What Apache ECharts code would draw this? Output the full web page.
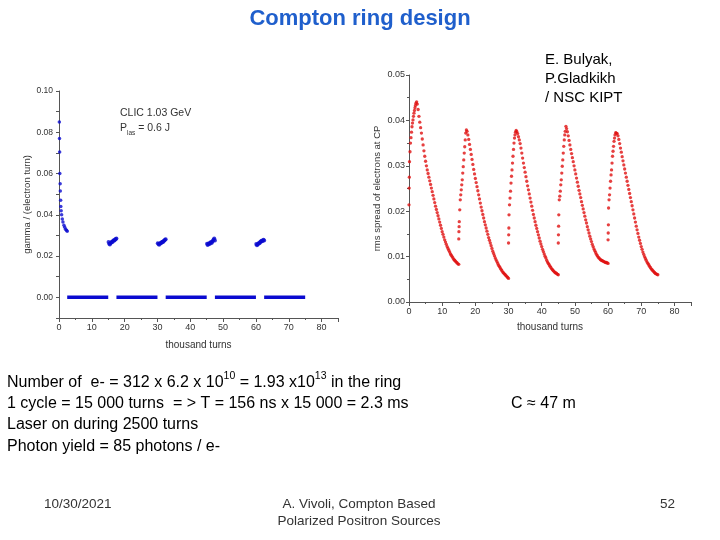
<!DOCTYPE html>
<html>
<head>
<meta charset="utf-8">
<script src="https://cdn.jsdelivr.net/npm/echarts@6/dist/echarts.min.js"></script>
<style>
html,body{margin:0;padding:0;background:#fff;}
#main{width:720px;height:540px;}
</style>
</head>
<body>
<div id="main"></div>
<script>
// ---------- Left chart: gamma / (electron turn) ----------
const leftDecayX = [0.1,0.15,0.2,0.25,0.35,0.4,0.5,0.55,0.65,0.8,1.0,1.2,1.5,1.75,2.0,2.3,2.5];
const leftDecayY = [0.085,0.077,0.0705,0.060,0.055,0.0515,0.047,0.044,0.042,0.040,0.038,0.0365,0.035,0.034,0.033,0.0325,0.032];
const clusterStarts = [15,30,45,60];
const clusterOffsets = [0.1,0.3,0.5,0.7,0.9,1.1,1.3,1.5,1.7,1.9,2.1,2.3,2.5];
const cluster1 = [0.0268,0.0260,0.0256,0.0262,0.0266,0.0270,0.0268,0.0274,0.0277,0.0275,0.0280,0.0283,0.0285];
const cluster2 = [0.0262,0.0258,0.0255,0.0260,0.0264,0.0262,0.0267,0.0270,0.0268,0.0273,0.0276,0.0279,0.0282];
const cluster3 = [0.0260,0.0254,0.0258,0.0262,0.0259,0.0265,0.0268,0.0264,0.0270,0.0274,0.0280,0.0285,0.0276];
const cluster4 = [0.0258,0.0252,0.0256,0.0260,0.0264,0.0262,0.0268,0.0271,0.0274,0.0272,0.0276,0.0279,0.0275];
const zeroSegments = [[2.5,15],[17.5,30],[32.5,45],[47.5,60],[62.5,75]];

// ---------- Right chart: rms spread of electrons at CP ----------
const cycleStarts = [0,15,30,45,60];
const riseOffsets = [0,0.05,0.1,0.15,0.3,0.45,0.6,0.75,0.9,1.05,1.2,1.35,1.5,1.65,1.8,1.95,2.1,2.3];
const decayOffsets = [2.5,2.75,3,3.25,3.5,3.75,4,4.25,4.5,4.75,5,5.25,5.5,5.75,6,6.25,6.5,6.75,7,7.25,7.5,7.75,8,8.25,8.5,8.75,9,9.25,9.5,9.75,10,10.25,10.5,10.75,11,11.25,11.5,11.75,12,12.25,12.5,12.75,13,13.25,13.5,13.75,14,14.25,14.5,14.75,15];
const cycle1Rise = [0.0214,0.0251,0.0275,0.0309,0.0331,0.0350,0.0362,0.0374,0.0386,0.0394,0.0401,0.0409,0.0416,0.0422,0.0428,0.0433,0.0438,0.0441];
const cycle2Rise = [0.0139,0.0155,0.0166,0.0177,0.0203,0.0225,0.0236,0.0247,0.0258,0.0269,0.0284,0.0298,0.0313,0.0328,0.0342,0.0357,0.0372,0.0379];
const cycle3Rise = [0.0130,0.0148,0.0163,0.0192,0.0214,0.0229,0.0244,0.0262,0.0277,0.0291,0.0306,0.0321,0.0336,0.0350,0.0361,0.0368,0.0374,0.0378];
const cycle4Rise = [0.0130,0.0148,0.0167,0.0192,0.0225,0.0233,0.0244,0.0258,0.0269,0.0284,0.0299,0.0313,0.0328,0.0343,0.0357,0.0368,0.0376,0.0387];
const cycle5Rise = [0.0137,0.0152,0.0170,0.0207,0.0225,0.0236,0.0251,0.0266,0.0280,0.0291,0.0306,0.0321,0.0332,0.0343,0.0354,0.0361,0.0368,0.0373];
const cycle1Decay = [0.0436,0.0424,0.0409,0.0396,0.0384,0.0372,0.0359,0.0346,0.0333,0.0321,
  0.0310,0.0300,0.0291,0.0283,0.0275,0.0267,0.0259,0.0251,0.0243,0.0235,
  0.0227,0.0219,0.0211,0.0204,0.0197,0.0190,0.0183,0.0176,0.0169,0.0162,
  0.0155,0.0149,0.0143,0.0137,0.0132,0.0127,0.0122,0.0118,0.0114,0.0110,
  0.0106,0.0103,0.0100,0.0097,0.0094,0.0092,0.0090,0.0088,0.0086,0.0084,0.0083];
const cycle2Decay = [0.0376,0.0368,0.0358,0.0347,0.0336,0.0325,0.0314,0.0303,0.0292,0.0282,
  0.0272,0.0263,0.0254,0.0245,0.0236,0.0227,0.0218,0.0209,0.0201,0.0193,
  0.0185,0.0177,0.0170,0.0163,0.0156,0.0149,0.0142,0.0136,0.0130,0.0124,
  0.0118,0.0112,0.0107,0.0102,0.0097,0.0093,0.0089,0.0085,0.0081,0.0078,
  0.0075,0.0072,0.0069,0.0066,0.0064,0.0062,0.0060,0.0058,0.0056,0.0054,0.0052];
const cycle3Decay = [0.0375,0.0371,0.0364,0.0357,0.0349,0.0339,0.0328,0.0317,0.0306,0.0296,
  0.0286,0.0276,0.0266,0.0256,0.0247,0.0238,0.0229,0.0220,0.0211,0.0202,
  0.0193,0.0185,0.0177,0.0169,0.0162,0.0155,0.0148,0.0141,0.0134,0.0128,
  0.0122,0.0116,0.0111,0.0106,0.0101,0.0097,0.0092,0.0088,0.0085,0.0082,
  0.0079,0.0076,0.0073,0.0071,0.0069,0.0067,0.0065,0.0064,0.0063,0.0061,0.0060];
const cycle4Decay = [0.0382,0.0375,0.0366,0.0356,0.0346,0.0336,0.0327,0.0318,0.0309,0.0300,
  0.0291,0.0282,0.0273,0.0264,0.0255,0.0246,0.0238,0.0230,0.0221,0.0213,
  0.0205,0.0197,0.0189,0.0181,0.0174,0.0166,0.0159,0.0152,0.0145,0.0139,
  0.0133,0.0127,0.0122,0.0117,0.0113,0.0109,0.0105,0.0102,0.0099,0.0097,
  0.0095,0.0093,0.0092,0.0091,0.0090,0.0089,0.0088,0.0087,0.0087,0.0086,0.0085];
const cycle5Decay = [0.0372,0.0371,0.0366,0.0358,0.0349,0.0339,0.0330,0.0320,0.0311,0.0302,
  0.0293,0.0284,0.0275,0.0266,0.0257,0.0248,0.0239,0.0230,0.0221,0.0212,
  0.0203,0.0194,0.0185,0.0176,0.0167,0.0159,0.0151,0.0143,0.0136,0.0129,
  0.0122,0.0116,0.0110,0.0105,0.0100,0.0096,0.0092,0.0088,0.0085,0.0082,
  0.0079,0.0076,0.0073,0.0071,0.0069,0.0067,0.0065,0.0063,0.0062,0.0061,0.0060];

// ---------- Tick labels ----------
const xTicks = [0,10,20,30,40,50,60,70,80];
const leftYTicks = ['0.00','0.02','0.04','0.06','0.08','0.10'];
const rightYTicks = ['0.00','0.01','0.02','0.03','0.04','0.05'];

// ---------- Build data ----------
const leftDecay = leftDecayX.map((x,i)=>[x,leftDecayY[i]]);
const clusters = [cluster1,cluster2,cluster3,cluster4];
const clusterData = [];
clusters.forEach((c,k)=>c.forEach((v,i)=>clusterData.push([clusterStarts[k]+clusterOffsets[i], v])));

const rises = [cycle1Rise,cycle2Rise,cycle3Rise,cycle4Rise,cycle5Rise];
const decays = [cycle1Decay,cycle2Decay,cycle3Decay,cycle4Decay,cycle5Decay];
const redData = [];
cycleStarts.forEach((s,k)=>{
  rises[k].forEach((v,i)=>redData.push([s+riseOffsets[i], v]));
  decays[k].forEach((v,i)=>redData.push([s+decayOffsets[i], v]));
});

const BLUE = '#0a0ad0';
const RED = '#e01010';
const AX = '#555';
const TXT = '#333';
const FONT = 'Liberation Sans, Arial, sans-serif';

function xAxisCfg(grid, gap){
  return {
    type:'value', gridIndex:grid, min:0, max:85, interval:10,
    axisLine:{show:true, onZero:false, lineStyle:{color:AX, width:1}},
    axisTick:{show:true, length:4, lineStyle:{color:AX}},
    minorTick:{show:true, splitNumber:2, length:2, lineStyle:{color:AX}},
    splitLine:{show:false},
    axisLabel:{fontSize:9, color:TXT, fontFamily:FONT, margin:5,
      formatter:v=> xTicks.indexOf(v)>=0 ? String(v) : ''},
    name:'thousand turns', nameLocation:'middle', nameGap:gap,
    nameTextStyle:{fontSize:10, color:TXT, fontFamily:FONT}
  };
}

const chart = echarts.init(document.getElementById('main'), null, {renderer:'canvas'});
chart.setOption({
  animation:false,
  backgroundColor:'#fff',
  grid:[
    {left:59, top:91, width:279, height:227},
    {left:409, top:75, width:282, height:227}
  ],
  xAxis:[ xAxisCfg(0, 22), xAxisCfg(1, 20) ],
  yAxis:[
    {
      type:'value', gridIndex:0, min:-0.01, max:0.10, interval:0.01,
      axisLine:{show:true, onZero:false, lineStyle:{color:AX, width:1}},
      axisTick:{show:true, length:3, lineStyle:{color:AX}},
      splitLine:{show:false},
      axisLabel:{fontSize:8.5, color:TXT, fontFamily:FONT, margin:6,
        formatter:v=>{ const s=v.toFixed(2); return leftYTicks.indexOf(s)>=0 ? s : ''; }},
      name:'gamma / (electron turn)', nameLocation:'middle', nameGap:27,
      nameTextStyle:{fontSize:9.5, color:TXT, fontFamily:FONT}
    },
    {
      type:'value', gridIndex:1, min:0, max:0.05, interval:0.01,
      axisLine:{show:true, onZero:false, lineStyle:{color:AX, width:1}},
      axisTick:{show:true, length:3, lineStyle:{color:AX}},
      minorTick:{show:true, splitNumber:2, length:2, lineStyle:{color:AX}},
      splitLine:{show:false},
      axisLabel:{fontSize:9, color:TXT, fontFamily:FONT, margin:4,
        formatter:v=>{ const s=v.toFixed(2); return rightYTicks.indexOf(s)>=0 ? s : ''; }},
      name:'rms spread of electrons at CP', nameLocation:'middle', nameGap:27,
      nameTextStyle:{fontSize:9.5, color:TXT, fontFamily:FONT}
    }
  ],
  series:[
    {type:'scatter', xAxisIndex:0, yAxisIndex:0, data:leftDecay, symbolSize:3.5,
      itemStyle:{color:BLUE}, silent:true},
    {type:'scatter', xAxisIndex:0, yAxisIndex:0, data:clusterData, symbolSize:4,
      itemStyle:{color:BLUE}, silent:true},
    ...zeroSegments.map(seg=>({
      type:'line', xAxisIndex:0, yAxisIndex:0, data:[[seg[0],0],[seg[1],0]],
      symbol:'none', lineStyle:{color:BLUE, width:3.5}, silent:true
    })),
    {type:'scatter', xAxisIndex:1, yAxisIndex:1, data:redData, symbolSize:3.3,
      itemStyle:{color:RED}, silent:true}
  ],
  graphic:[
    {type:'text', left:'center', top:8, style:{text:'Compton ring design',
      font:'bold 22px Liberation Sans, Arial, sans-serif', fill:'#1f5fcc'}},
    {type:'text', x:545, y:50, style:{text:'E. Bulyak,\nP.Gladkikh\n/ NSC KIPT',
      font:'15px Liberation Sans, Arial, sans-serif', fill:'#000', lineHeight:19}},
    {type:'text', x:120, y:108, style:{text:'CLIC 1.03 GeV',
      font:'10.5px Liberation Sans, Arial, sans-serif', fill:TXT}},
    {type:'text', x:120, y:123, style:{
      text:'{a|P}{b|las}{a| = 0.6 J}',
      rich:{a:{fontSize:10.5, fontFamily:FONT, fill:TXT, color:TXT, lineHeight:14, verticalAlign:'top'},
            b:{fontSize:6.5, fontFamily:FONT, fill:TXT, color:TXT, lineHeight:8, verticalAlign:'bottom'}}}},
    {type:'text', x:7, y:371, style:{
      text:'{a|Number of  e- = 312 x 6.2 x 10}{s|10}{a| = 1.93 x10}{s|13}{a| in the ring}',
      rich:{a:{fontSize:16, fontFamily:FONT, fill:'#000', color:'#000', lineHeight:20, verticalAlign:'bottom'},
            s:{fontSize:10.5, fontFamily:FONT, fill:'#000', color:'#000', lineHeight:12, verticalAlign:'top'}}}},
    {type:'text', x:7, y:396, style:{text:'1 cycle = 15 000 turns  = > T = 156 ns x 15 000 = 2.3 ms',
      font:'16px Liberation Sans, Arial, sans-serif', fill:'#000'}},
    {type:'text', x:511, y:396, style:{text:'C \u2248 47 m',
      font:'16px Liberation Sans, Arial, sans-serif', fill:'#000'}},
    {type:'text', x:7, y:417, style:{text:'Laser on during 2500 turns',
      font:'16px Liberation Sans, Arial, sans-serif', fill:'#000'}},
    {type:'text', x:7, y:439, style:{text:'Photon yield = 85 photons / e-',
      font:'16px Liberation Sans, Arial, sans-serif', fill:'#000'}},
    {type:'text', x:44, y:497, style:{text:'10/30/2021',
      font:'13.5px Liberation Sans, Arial, sans-serif', fill:'#333'}},
    {type:'text', x:359, y:496, style:{text:'A. Vivoli, Compton Based\nPolarized Positron Sources',
      font:'13.5px Liberation Sans, Arial, sans-serif', fill:'#333', align:'center', lineHeight:17}},
    {type:'text', x:660, y:497, style:{text:'52',
      font:'13.5px Liberation Sans, Arial, sans-serif', fill:'#333'}}
  ]
});
</script>
</body>
</html>
